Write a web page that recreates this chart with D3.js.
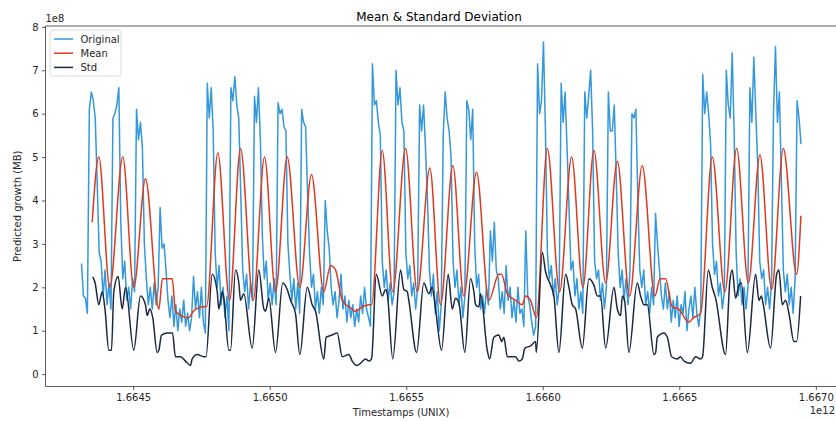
<!DOCTYPE html>
<html>
<head>
<meta charset="utf-8">
<script src="https://cdn.jsdelivr.net/npm/d3@7/dist/d3.min.js"></script>
<style>
  body { margin: 0; background: #fff; }
  svg { font-family: "DejaVu Sans", sans-serif; }
</style>
</head>
<body>
<svg id="chart" width="836" height="421"></svg>
<script>
// first raw sample (ms) and the raw sampling step
let start_ms = 1664310600000
let step_hours = 2

// raw series, values in units of 1e8 MB
let original = [
  2.55, 1.8, 1.75, 1.4, 6.1, 6.5, 6.3, 5.9, 4.4, 2.8,
  2.6, 1.8, 2.4, 1.6, 2.1, 1.5, 5.9, 6.0, 6.2, 6.6,
  3.5, 2.2, 2.6, 1.7, 2.0, 1.5, 2.2, 1.9, 6.1, 5.4,
  5.8, 5.2, 3.0, 2.2, 1.6, 2.0, 1.5, 2.1, 1.6, 2.0,
  3.84, 2.9, 3.0, 2.4, 1.7, 1.3, 1.8, 1.1, 1.6, 1.0,
  1.5, 1.2, 1.7, 1.1, 1.4, 1.0, 1.3, 2.25, 1.5, 1.9,
  1.3, 2.0, 1.2, 0.95, 6.7, 5.9, 6.6, 5.6, 2.8, 2.0,
  2.5, 1.6, 2.0, 1.3, 1.8, 1.0, 6.6, 6.3, 6.85, 6.2,
  5.9, 4.2, 2.4, 1.9, 2.3, 1.5, 2.1, 1.7, 6.4, 5.8,
  6.6, 5.4, 3.2, 2.2, 2.6, 1.7, 2.1, 1.6, 2.2, 1.6,
  6.25, 6.0, 6.1, 5.7, 5.6, 3.0, 2.3, 1.7, 2.2, 1.5,
  2.1, 1.4, 6.1, 5.8, 5.7, 4.2, 2.8, 2.0, 2.3, 1.5,
  1.9, 1.4, 2.0, 1.6, 4.0, 3.3, 2.9, 2.0, 1.6, 1.9,
  1.3, 1.7, 2.3, 1.5, 1.8, 1.2, 1.7, 1.3, 1.6, 1.1,
  1.5, 1.2, 1.8, 1.4, 2.0, 1.5, 1.3, 1.1, 7.15, 6.2,
  6.3, 5.8, 5.5, 2.6, 2.0, 2.4, 1.7, 2.1, 1.6, 1.9,
  7.0, 6.2, 6.6, 5.8, 5.6, 2.8, 2.2, 2.5, 1.8, 2.1,
  1.5, 2.0, 6.2, 5.6, 6.2, 5.2, 4.0, 2.4, 1.8, 2.3,
  1.4, 1.9, 1.0, 1.6, 5.5, 6.5, 5.9, 5.6, 5.0, 2.6,
  2.0, 2.4, 1.6, 2.0, 1.3, 1.8, 6.3, 6.1, 5.4, 6.1,
  3.0, 2.0, 2.3, 1.5, 1.8, 1.4, 2.0, 1.6, 3.3, 2.6,
  3.5, 2.4, 2.2, 1.5, 1.9, 1.4, 2.5, 1.7, 2.0, 1.3,
  1.7, 1.2, 2.0, 1.4, 1.5, 1.1, 3.3, 1.8, 1.6, 1.2,
  0.9, 1.1, 7.15, 6.0, 6.3, 7.65, 5.6, 2.8, 2.2, 2.5,
  1.8, 2.2, 1.6, 2.0, 6.7, 5.8, 6.5, 5.2, 3.8, 2.4,
  2.6, 1.8, 2.2, 1.5, 1.9, 1.4, 6.5, 5.9, 6.4, 7.0,
  5.6, 2.6, 2.2, 2.4, 1.7, 2.1, 1.5, 2.0, 6.5, 5.6,
  5.6, 6.2, 4.6, 2.8, 2.0, 2.4, 1.7, 2.2, 1.6, 2.4,
  6.0, 5.9, 6.1, 4.0, 2.4, 2.0, 2.4, 1.6, 1.9, 1.4,
  2.0, 1.6, 3.7, 3.0, 2.4, 1.8, 1.5, 2.1, 1.5, 1.9,
  1.2, 1.7, 1.3, 1.8, 1.1, 1.6, 1.4, 1.9, 1.0, 1.5,
  1.8, 1.3, 2.0, 1.4, 1.1, 1.5, 6.9, 6.0, 6.5, 6.0,
  5.3, 3.0, 2.3, 2.6, 1.8, 2.1, 1.5, 1.9, 7.0, 6.2,
  5.9, 7.4, 5.5, 2.8, 1.8, 2.2, 1.6, 2.0, 1.5, 2.0,
  6.6, 5.8, 7.3, 6.0, 4.8, 2.6, 2.2, 2.4, 1.6, 2.0,
  1.5, 2.1, 6.0, 7.55, 5.8, 6.5, 4.5, 2.4, 1.9, 2.3,
  1.6, 2.0, 1.4, 2.2, 6.3, 5.9, 5.3
]

// rolling mean: [hours since start, value 1e8]
let mean_points = [
  [10.9, 3.5], [17.6, 5.0], [28.8, 2.0], [42.0, 5.0], [53.2, 2.0], [65.1, 4.5],
  [78.7, 1.5], [82.4, 2.2], [92.3, 2.2], [95.6, 1.45], [108.9, 1.3], [114.0, 1.45],
  [124.1, 1.55], [127.2, 1.55], [138.7, 5.1], [150.6, 1.7], [161.8, 5.2], [174.7, 1.7],
  [186.2, 5.0], [197.4, 1.9], [209.3, 5.0], [222.1, 2.0], [234.0, 4.6], [246.5, 1.9],
  [253.4, 2.5], [258.4, 2.4], [265.3, 1.7], [275.4, 1.5], [278.8, 1.45], [285.6, 1.55],
  [292.3, 1.6], [295.1, 1.6], [306.0, 5.15], [316.7, 1.9], [329.7, 5.2], [341.6, 1.9],
  [354.4, 4.75], [365.3, 1.6], [377.8, 4.8], [389.0, 1.8], [401.9, 4.65], [414.4, 1.7],
  [424.6, 2.3], [427.4, 2.3], [433.2, 1.85], [441.6, 1.7], [448.4, 1.6], [451.8, 1.8],
  [456.9, 1.7], [462.7, 1.3], [473.9, 5.2], [486.4, 1.9], [498.6, 5.0], [510.1, 2.0],
  [521.3, 5.15], [533.2, 2.1], [545.1, 4.9], [557.6, 1.8], [570.5, 4.8], [583.4, 1.8],
  [588.5, 2.2], [594.2, 2.2], [601.0, 1.55], [607.5, 1.5], [617.9, 1.2], [622.7, 1.3],
  [629.8, 1.4], [641.7, 5.0], [654.6, 1.9], [666.5, 5.2], [678.4, 2.1], [690.2, 5.05],
  [702.1, 1.95], [714.0, 5.2], [727.5, 2.3], [731.9, 3.65]
]

// rolling std: [hours since start, value 1e8]
let std_points = [
  [11.5, 2.24], [13.9, 2.1], [17.6, 1.6], [21.1, 1.9], [23.9, 1.5], [27.8, 0.55],
  [30.5, 0.55], [32.9, 1.9], [37.3, 2.25], [41.4, 1.5], [44.8, 2.0], [53.2, 0.55],
  [60.0, 1.8], [65.1, 1.6], [66.8, 1.35], [69.5, 1.5], [72.5, 1.3], [77.0, 0.5],
  [78.7, 0.55], [81.4, 0.9], [87.5, 0.95], [92.6, 0.95], [95.6, 0.4], [100.7, 0.4],
  [105.8, 0.3], [110.9, 0.2], [112.6, 0.35], [117.7, 0.45], [124.4, 0.4], [126.7, 0.4],
  [133.0, 2.3], [138.1, 1.9], [139.7, 1.5], [143.2, 1.9], [144.8, 1.75], [149.9, 0.55],
  [151.6, 0.55], [156.7, 2.4], [160.1, 2.1], [161.8, 1.7], [165.1, 1.85], [173.7, 0.6],
  [180.4, 2.4], [185.5, 1.5], [187.2, 1.45], [190.6, 1.75], [197.4, 0.5], [204.8, 2.1],
  [209.3, 1.95], [212.7, 1.7], [217.7, 1.4], [222.1, 0.45], [229.7, 2.0], [234.7, 1.6],
  [238.1, 1.45], [246.5, 0.35], [248.9, 0.85], [255.0, 0.9], [260.2, 0.95], [265.3, 0.4],
  [272.0, 0.45], [275.4, 0.3], [280.5, 0.2], [283.9, 0.25], [289.0, 0.35], [292.3, 0.3],
  [295.1, 0.35], [299.9, 2.3], [306.0, 1.8], [309.4, 1.95], [311.1, 1.85], [316.7, 0.35],
  [324.6, 2.4], [327.9, 1.95], [331.4, 1.9], [333.0, 1.7], [340.9, 0.5], [348.3, 2.1],
  [353.4, 1.85], [356.8, 2.0], [360.2, 1.5], [366.3, 0.55], [373.1, 2.3], [377.2, 1.5],
  [380.5, 1.75], [383.9, 1.65], [390.0, 0.5], [395.8, 2.2], [399.2, 1.9], [400.9, 1.6],
  [404.3, 1.55], [406.0, 1.85], [412.8, 0.55], [415.2, 0.35], [419.5, 0.85], [424.6, 0.9],
  [427.4, 0.75], [429.7, 0.85], [433.2, 0.4], [441.6, 0.4], [445.0, 0.3], [448.4, 0.35],
  [451.1, 0.6], [456.9, 0.65], [462.0, 0.75], [462.7, 0.5], [468.8, 2.8], [472.2, 2.35],
  [477.3, 2.05], [480.6, 1.8], [485.7, 0.5], [492.5, 2.3], [495.9, 2.0], [499.3, 1.6],
  [502.7, 1.5], [509.5, 0.6], [516.2, 2.2], [521.3, 2.05], [524.8, 1.8], [528.1, 1.8],
  [533.2, 0.6], [541.7, 2.0], [545.1, 1.5], [548.5, 1.35], [550.2, 1.8], [552.5, 1.7],
  [556.9, 0.5], [565.4, 2.1], [568.8, 1.8], [572.2, 1.6], [575.6, 1.6], [582.4, 0.45],
  [584.1, 0.5], [585.8, 0.85], [592.5, 0.95], [596.0, 0.85], [600.4, 0.4], [606.1, 0.35],
  [609.5, 0.4], [612.9, 0.3], [619.7, 0.25], [624.7, 0.4], [629.8, 0.35], [631.8, 0.4],
  [637.7, 2.4], [641.7, 2.0], [645.1, 1.75], [655.2, 0.45], [659.6, 2.15], [662.1, 2.4],
  [665.4, 1.75], [668.8, 2.05], [671.3, 2.1], [677.4, 0.5], [685.8, 2.3], [689.2, 1.7],
  [691.6, 1.8], [693.6, 1.6], [701.0, 0.6], [707.2, 2.3], [709.5, 2.4], [712.9, 1.6],
  [716.3, 1.7], [719.7, 1.4], [724.8, 0.75], [727.5, 0.75], [731.6, 1.8]
]

let series_names = ["Original", "Mean", "Std"]
let x_ticks = [1.6645e12, 1.6650e12, 1.6655e12, 1.6660e12, 1.6665e12, 1.6670e12]
let y_ticks = [0, 1, 2, 3, 4, 5, 6, 7, 8]

let colors = {Original: "#3498db", Mean: "#dc3b1f", Std: "#1c2840"}
let box = {left: 45.5, right: 837, top: 26, bottom: 386.5}
let hour_ms = 3600e3

function to_series(points) {
  return points.map(([h, v]) => ({t: start_ms + h * hour_ms, v: v}))
}

function make_scales(raw) {
  let t_ext = d3.extent(raw, d => d.t)
  let pad = (t_ext[1] - t_ext[0]) * 0.05
  return {
    x: d3.scaleLinear()
      .domain([t_ext[0] - pad, t_ext[1] + pad])
      .range([box.left, box.right]),
    y: d3.scaleLinear()
      .domain([-0.285, 8.02])
      .range([box.bottom, box.top])
  }
}

function draw_axes(svg, scales) {
  let ax = svg.append("g").attr("id", "axes")

  ax.append("g")
    .attr("transform", `translate(0,${box.bottom})`)
    .call(d3.axisBottom(scales.x)
      .tickValues(x_ticks)
      .tickSize(3.5)
      .tickPadding(3.5)
      .tickFormat(d => (d / 1e12).toFixed(4)))

  ax.append("g")
    .attr("transform", `translate(${box.left},0)`)
    .call(d3.axisLeft(scales.y)
      .tickValues(y_ticks)
      .tickSize(3.5)
      .tickPadding(3.5)
      .tickFormat(d3.format("d")))

  ax.selectAll(".domain").remove()
  ax.selectAll(".tick line").attr("stroke", "#333").attr("stroke-width", 0.8)
  ax.selectAll(".tick text")
    .attr("fill", "#262626")
    .attr("font-size", 10)
    .attr("font-family", "DejaVu Sans, sans-serif")

  // spines: left, bottom, top (right one falls outside the picture)
  let spine = (x1, y1, x2, y2) => ax.append("line")
    .attr("x1", x1).attr("y1", y1).attr("x2", x2).attr("y2", y2)
    .attr("stroke", "#333").attr("stroke-width", 0.8)
  spine(box.left, box.top, box.left, box.bottom)
  spine(box.left, box.bottom, box.right, box.bottom)
  spine(box.left, box.top, box.right, box.top)

  // offset labels
  ax.append("text").attr("x", box.left).attr("y", 22)
    .attr("font-size", 10).attr("fill", "#262626").text("1e8")
  ax.append("text").attr("x", 835).attr("y", 414)
    .attr("text-anchor", "end")
    .attr("font-size", 10).attr("fill", "#262626").text("1e12")
}

function draw_lines(svg, scales, data) {
  let line = d3.line()
    .x(d => scales.x(d.t))
    .y(d => scales.y(d.v))

  svg.append("g").attr("id", "lines")
    .selectAll("path")
    .data(series_names).enter()
    .append("path")
    .attr("fill", "none")
    .attr("stroke", d => colors[d])
    .attr("stroke-width", 1.5)
    .attr("stroke-linejoin", "round")
    .attr("d", d => line.curve(d == "Original" ? d3.curveLinear : d3.curveMonotoneX)(data[d]))
}

function draw_labels(svg) {
  svg.append("text")
    .attr("x", 439).attr("y", 21)
    .attr("text-anchor", "middle")
    .attr("font-size", 12).attr("fill", "#000")
    .text("Mean & Standard Deviation")

  svg.append("text")
    .attr("x", 401).attr("y", 416)
    .attr("text-anchor", "middle")
    .attr("font-size", 10).attr("fill", "#262626")
    .text("Timestamps (UNIX)")

  svg.append("text")
    .attr("transform", `translate(21,${(box.top + box.bottom) / 2})rotate(-90)`)
    .attr("text-anchor", "middle")
    .attr("font-size", 10).attr("fill", "#262626")
    .text("Predicted growth (MB)")
}

function draw_legend(svg) {
  let lg = svg.append("g").attr("id", "legend").attr("transform", "translate(50,30)")
  lg.append("rect")
    .attr("width", 71).attr("height", 46).attr("rx", 2.5)
    .attr("fill", "#fff").attr("fill-opacity", 0.8)
    .attr("stroke", "#d0d0d0").attr("stroke-width", 0.8)

  let rows = lg.selectAll("g.row")
    .data(series_names).enter()
    .append("g").attr("class", "row")
    .attr("transform", (d, i) => `translate(0,${9 + i * 14.2})`)
  rows.append("line")
    .attr("x1", 4).attr("x2", 23)
    .attr("stroke", d => colors[d]).attr("stroke-width", 1.5)
  rows.append("text")
    .attr("x", 30.5).attr("y", 3.6)
    .attr("font-size", 10).attr("fill", "#262626")
    .text(d => d)
}

function visualize() {
  let svg = d3.select("#chart")
  let raw = original.map((v, i) => ({t: start_ms + i * step_hours * hour_ms, v: v}))
  let data = {Original: raw, Mean: to_series(mean_points), Std: to_series(std_points)}
  let scales = make_scales(raw)
  draw_lines(svg, scales, data)
  draw_axes(svg, scales)
  draw_labels(svg)
  draw_legend(svg)
}

visualize()
</script>
</body>
</html>
